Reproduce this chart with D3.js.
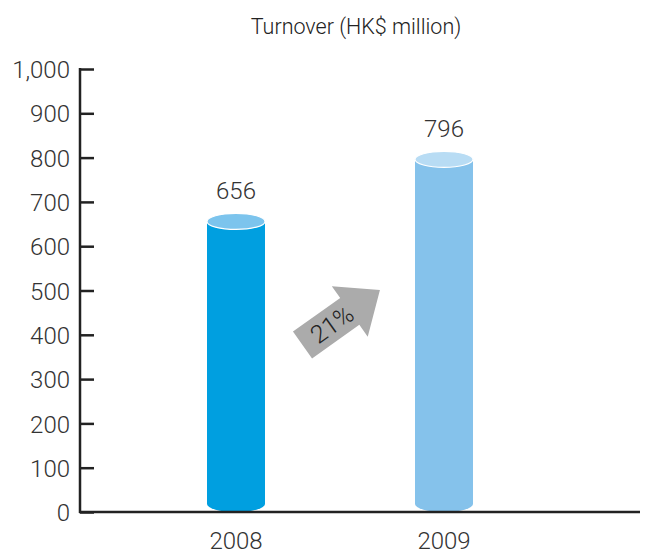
<!DOCTYPE html>
<html>
<head>
<meta charset="utf-8">
<script src="https://cdn.jsdelivr.net/npm/d3@7"></script>
<style>
  html, body { margin: 0; padding: 0; background: #fff; }
  svg text { font-family: Roboto, "DejaVu Sans", sans-serif; font-weight: 300; fill: #333; }
</style>
</head>
<body>
<svg id="chart" width="646" height="555"></svg>
<script>
// Turnover by year (HK$ million)
const years = ["2008", "2009"];
const turnover = [656, 796];
const bodyColors = ["#009fe0", "#85c2eb"];
const capColors = ["#7cc4ed", "#b8dcf4"];
const yTicks = [0, 100, 200, 300, 400, 500, 600, 700, 800, 900, 1000];
const growthLabel = "21%";
const title = "Turnover (HK$ million)";

const svg = d3.select("#chart");
const margin = { left: 80, right: 6, top: 69, bottom: 43 };
const W = 646, H = 555;

const y = d3.scaleLinear().domain([0, 1000]).range([H - margin.bottom, margin.top]);
const x = d3.scalePoint().domain(years).range([236, 444]);

// title
svg.append("text")
  .attr("x", 356).attr("y", 34)
  .attr("text-anchor", "middle")
  .style("font-size", "21.5px")
  .style("fill", "#222")
  .text(title);

// y axis with ticks pointing into the plot
const yAxis = d3.axisRight(y)
  .tickValues(yTicks)
  .tickSize(14)
  .tickFormat(d3.format(","));
const gy = svg.append("g").attr("transform", `translate(${margin.left},0)`).call(yAxis);
gy.select(".domain").remove();
gy.selectAll(".tick line").attr("stroke", "#222").attr("stroke-width", 2.5);
gy.selectAll(".tick text")
  .attr("x", -10).attr("dy", "0.36em")
  .attr("text-anchor", "end")
  .style("font-size", "24px")
  .style("fill", "#333");
gy.append("line")
  .attr("x1", 0).attr("x2", 0)
  .attr("y1", y(1000) - 1).attr("y2", y(0) + 1)
  .attr("stroke", "#222").attr("stroke-width", 2.5);

// cylinders: body with rounded bottom, elliptical cap at the value
const rx = 29, ry = 8;
const bars = svg.append("g").selectAll("g").data(years).join("g");
bars.each(function(yr, i) {
  const g = d3.select(this);
  const cx = x(yr);
  const top = y(turnover[i]);
  const bot = y(0) - ry;
  const path = `M${cx - rx},${top} L${cx - rx},${bot} A${rx},${ry} 0 0 0 ${cx + rx},${bot} L${cx + rx},${top} Z`;
  g.append("path").attr("d", path).attr("fill", bodyColors[i]);
  g.append("ellipse")
    .attr("cx", cx).attr("cy", top).attr("rx", rx).attr("ry", ry)
    .attr("fill", capColors[i]).attr("stroke", "#fff").attr("stroke-width", 1.2);
  g.append("text")
    .attr("x", cx).attr("y", top - 22)
    .attr("text-anchor", "middle")
    .style("font-size", "24px")
    .text(d3.format(",")(turnover[i]));
});

// x axis baseline
svg.append("line")
  .attr("x1", margin.left - 1).attr("x2", W - margin.right)
  .attr("y1", y(0)).attr("y2", y(0))
  .attr("stroke", "#222").attr("stroke-width", 2.5);

svg.append("g").selectAll("text").data(years).join("text")
  .attr("x", d => x(d)).attr("y", y(0) + 37)
  .attr("text-anchor", "middle")
  .style("font-size", "24px")
  .text(d => d);

// growth arrow
const ax = 302.5, ay = 345, ang = -35.4;
const len = 95, tailW = 33, headW = 62, headL = 37;
const arrow = svg.append("g").attr("transform", `translate(${ax},${ay}) rotate(${ang})`);
arrow.append("path")
  .attr("d", `M0,${-tailW/2} L${len-headL},${-tailW/2} L${len-headL},${-headW/2} L${len},0 L${len-headL},${headW/2} L${len-headL},${tailW/2} L0,${tailW/2} Z`)
  .attr("fill", "#ababab");
arrow.append("text")
  .attr("x", 36).attr("y", 0).attr("dy", "0.36em")
  .attr("text-anchor", "middle")
  .style("font-size", "25px")
  .style("fill", "#222")
  .text(growthLabel);
</script>
</body>
</html>
